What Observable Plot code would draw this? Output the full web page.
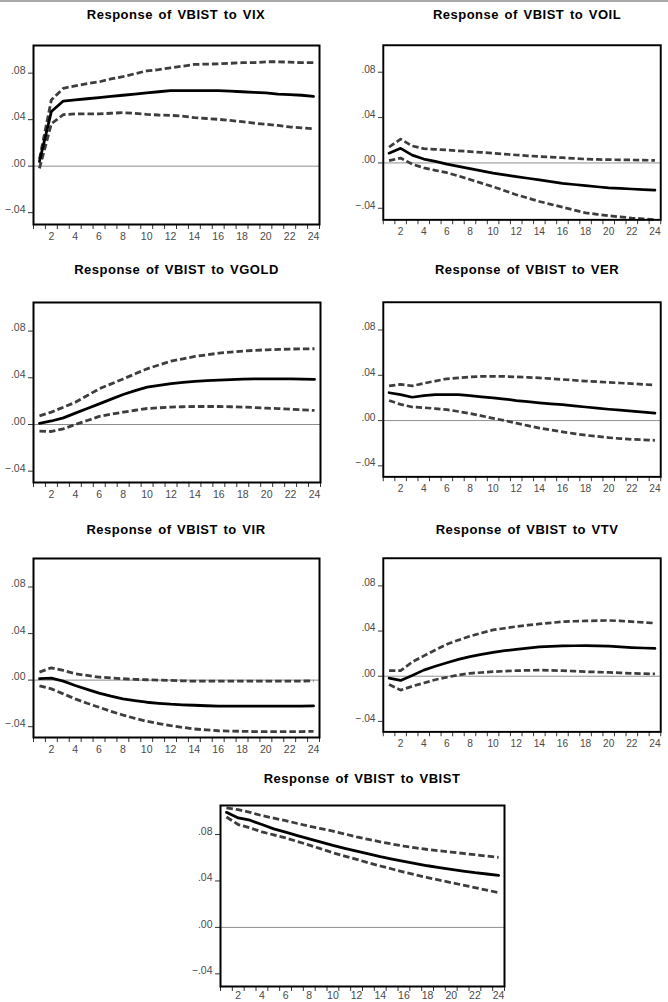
<!DOCTYPE html>
<html><head><meta charset="utf-8">
<script src="https://cdn.jsdelivr.net/npm/d3@7"></script>
<script src="https://cdn.jsdelivr.net/npm/@observablehq/plot@0.6"></script>
<style>
body{margin:0;background:#fff;width:668px;height:1002px;overflow:hidden;position:relative;font-family:"Liberation Sans",Arial,sans-serif}
.topbar{position:absolute;left:0;top:0;width:668px;height:2px;background:#a8a8a8}
.panel{position:absolute}
.title{position:absolute;text-align:center;font-weight:bold;font-size:13px;line-height:15px;letter-spacing:0.5px;word-spacing:1.5px;color:#000;white-space:nowrap}
</style></head><body>
<div class="topbar"></div>
<div id="root"></div>
<script>
const periods = [1,2,3,4,5,6,7,8,9,10,11,12,13,14,15,16,17,18,19,20,21,22,23,24];
const yTicks = [-0.04, 0, 0.04, 0.08];
const xLabelTicks = [2,4,6,8,10,12,14,16,18,20,22,24];
const xMinorTicks = [0.5,1.5,2.5,3.5,4.5,5.5,6.5,7.5,8.5,9.5,10.5,11.5,12.5,13.5,14.5,15.5,16.5,17.5,18.5,19.5,20.5,21.5,22.5,23.5,24.5];
const titles = ["Response of VBIST to VIX","Response of VBIST to VOIL","Response of VBIST to VGOLD","Response of VBIST to VER","Response of VBIST to VIR","Response of VBIST to VTV","Response of VBIST to VBIST"];

const vixResp = [0.004,0.047,0.056,0.057,0.058,0.059,0.060,0.061,0.062,0.063,0.064,0.065,0.065,0.065,0.065,0.065,0.0645,0.064,0.0635,0.063,0.062,0.0615,0.061,0.060];
const vixHi = [0.006,0.057,0.067,0.069,0.071,0.0725,0.075,0.077,0.0795,0.082,0.083,0.0846,0.086,0.0875,0.0878,0.088,0.0885,0.089,0.089,0.0898,0.0898,0.0895,0.089,0.089];
const vixLo = [-0.002,0.0365,0.0443,0.045,0.045,0.045,0.0455,0.046,0.0455,0.0446,0.044,0.0437,0.043,0.0417,0.041,0.0403,0.0393,0.0383,0.037,0.036,0.035,0.0337,0.033,0.0322];

const voilResp = [0.0086,0.0129,0.0069,0.0034,0.0014,-0.001,-0.003,-0.005,-0.007,-0.009,-0.0105,-0.012,-0.0135,-0.015,-0.0165,-0.018,-0.019,-0.020,-0.021,-0.022,-0.0225,-0.023,-0.0235,-0.024];
const voilHi = [0.014,0.021,0.015,0.0126,0.012,0.0114,0.0107,0.010,0.0093,0.0086,0.0078,0.007,0.0063,0.0057,0.0051,0.0046,0.004,0.0034,0.0031,0.0029,0.0027,0.0026,0.0024,0.0023];
const voilLo = [0.002,0.0043,-0.001,-0.0043,-0.0065,-0.0086,-0.0115,-0.0146,-0.0178,-0.021,-0.0245,-0.028,-0.031,-0.034,-0.0365,-0.039,-0.0415,-0.044,-0.0453,-0.0466,-0.0476,-0.0486,-0.0493,-0.050];

const vgoldResp = [0.001,0.003,0.0057,0.0097,0.0137,0.0177,0.0217,0.0257,0.029,0.032,0.0335,0.035,0.036,0.0369,0.0375,0.038,0.0385,0.0389,0.039,0.039,0.039,0.039,0.0388,0.0386];
const vgoldHi = [0.0074,0.0106,0.0148,0.019,0.0248,0.0306,0.0348,0.039,0.0434,0.0477,0.051,0.0543,0.0563,0.0583,0.0597,0.0611,0.062,0.0629,0.0635,0.064,0.0643,0.0646,0.0648,0.0649];
const vgoldLo = [-0.0057,-0.006,-0.0037,0.0,0.0034,0.0069,0.0088,0.0106,0.0122,0.0137,0.0143,0.0149,0.0152,0.0154,0.0154,0.0154,0.0152,0.0149,0.0145,0.014,0.0136,0.0131,0.0126,0.012];

const verResp = [0.0246,0.0229,0.0206,0.022,0.0229,0.0229,0.0229,0.022,0.021,0.020,0.019,0.0177,0.0167,0.0157,0.0148,0.014,0.013,0.012,0.011,0.010,0.0092,0.0083,0.0075,0.0066];
const verHi = [0.0306,0.032,0.0306,0.0329,0.0349,0.0369,0.0377,0.0386,0.039,0.0391,0.039,0.0386,0.0382,0.0377,0.037,0.0363,0.0356,0.0349,0.0343,0.0337,0.0332,0.0326,0.032,0.0314];
const verLo = [0.0177,0.0143,0.012,0.0114,0.0106,0.0097,0.008,0.0063,0.0042,0.002,0.0,-0.0023,-0.0045,-0.0066,-0.0083,-0.010,-0.0115,-0.0129,-0.014,-0.0151,-0.0159,-0.0166,-0.017,-0.0174];

const virResp = [0.0012,0.0017,-0.0009,-0.0046,-0.008,-0.0112,-0.0138,-0.0161,-0.0176,-0.019,-0.0199,-0.0207,-0.0212,-0.0216,-0.022,-0.0224,-0.0224,-0.0224,-0.0224,-0.0224,-0.0224,-0.0224,-0.0223,-0.0222];
const virHi = [0.0069,0.0106,0.0083,0.0055,0.004,0.0026,0.0019,0.0012,0.0007,0.0003,0.0,-0.0003,-0.0006,-0.0009,-0.0009,-0.0009,-0.0009,-0.0009,-0.0009,-0.0009,-0.0009,-0.0009,-0.0008,-0.0006];
const virLo = [-0.0049,-0.0075,-0.0118,-0.0161,-0.0199,-0.0233,-0.0268,-0.030,-0.0328,-0.0354,-0.0373,-0.0391,-0.0406,-0.042,-0.0428,-0.0435,-0.0438,-0.044,-0.0442,-0.0443,-0.0443,-0.0443,-0.0442,-0.044];

const vtvResp = [-0.0017,-0.0037,0.0006,0.0054,0.0089,0.012,0.0149,0.0174,0.0194,0.0211,0.0226,0.0237,0.0249,0.026,0.0265,0.0269,0.027,0.0271,0.0269,0.0266,0.026,0.0254,0.025,0.0246];
const vtvHi = [0.0049,0.0049,0.0126,0.018,0.0232,0.0283,0.032,0.0354,0.0383,0.041,0.0425,0.044,0.0452,0.0463,0.0473,0.0483,0.0487,0.049,0.0492,0.0494,0.049,0.0483,0.0477,0.047];
const vtvLo = [-0.0074,-0.0123,-0.0089,-0.006,-0.0031,-0.0009,0.0011,0.0026,0.0033,0.004,0.0045,0.0049,0.0052,0.0054,0.0052,0.0049,0.0045,0.004,0.0037,0.0034,0.003,0.0026,0.0023,0.002];

const vbistResp = [0.0991,0.0943,0.0923,0.0886,0.0849,0.082,0.0791,0.0763,0.0734,0.0706,0.0681,0.0657,0.0633,0.0609,0.0589,0.0569,0.055,0.0531,0.0515,0.050,0.0485,0.0471,0.046,0.0449];
const vbistHi = [0.1029,0.1014,0.0991,0.0963,0.0941,0.092,0.0895,0.0871,0.085,0.0829,0.0805,0.078,0.0758,0.0737,0.0718,0.070,0.0685,0.0671,0.066,0.0649,0.0637,0.0626,0.0614,0.0603];
const vbistLo = [0.0951,0.0886,0.0857,0.0823,0.0797,0.0771,0.074,0.0709,0.0676,0.0643,0.0614,0.0586,0.0557,0.0529,0.0503,0.0477,0.0453,0.0429,0.0407,0.0386,0.0364,0.0343,0.0321,0.030];

const series = [
  [vixResp, vixLo, vixHi],
  [voilResp, voilLo, voilHi],
  [vgoldResp, vgoldLo, vgoldHi],
  [verResp, verLo, verHi],
  [virResp, virLo, virHi],
  [vtvResp, vtvLo, vtvHi],
  [vbistResp, vbistLo, vbistHi]
];

// layout (box positions in page pixels)
const layout = [
  {left: 33, top: 45, w: 286, h: 179, capTop: 10, yd: [-0.0502, 0.1038], pad: 8},
  {left: 384, top: 45, w: 286, h: 180, capTop: 10, yd: [-0.0502, 0.1038], pad: 8},
  {left: 33, top: 302, w: 287, h: 180, capTop: 265, yd: [-0.0497, 0.1045], pad: 8},
  {left: 384, top: 302, w: 286, h: 180, capTop: 265, yd: [-0.0497, 0.1045], pad: 8},
  {left: 33, top: 558, w: 286, h: 179, capTop: 525, yd: [-0.0493, 0.1045], pad: 8},
  {left: 384, top: 558, w: 286, h: 179, capTop: 525, yd: [-0.0493, 0.1045], pad: 8},
  {left: 220, top: 805, w: 284, h: 181, capTop: 774, yd: [-0.0509, 0.105], pad: 5}
];

const fmt = d => { const s = d3.format(".2f")(d); return s.replace("0.", "."); };
const root = document.getElementById("root");
const ml = 40, mr = 8, mt = 8, mb = 30;
const dashColor = "#3d3d3d";
const dashStyle = {stroke: dashColor, strokeWidth: 2.8, strokeDasharray: "6.5,3", strokeLinecap: "butt"};

layout.forEach((L, i) => {
  const [resp, lo, hi] = series[i];
  const data = periods.map((p, j) => ({p, r: resp[j], lo: lo[j], hi: hi[j]}));
  const chart = Plot.plot({
    width: ml + L.w + mr,
    height: mt + L.h + mb,
    marginLeft: ml, marginRight: mr, marginTop: mt, marginBottom: mb,
    x: {domain: [0.5, 24.5]},
    y: {domain: L.yd},
    style: {fontFamily: '"Liberation Sans", Arial, sans-serif', fontSize: "10.5px", background: "transparent", overflow: "visible"},
    marks: [
      Plot.ruleY([0], {stroke: "#8c8c8c", strokeWidth: 1}),
      Plot.lineY(data, {x: "p", y: "hi", ...dashStyle}),
      Plot.lineY(data, {x: "p", y: "lo", ...dashStyle}),
      Plot.lineY(data, {x: "p", y: "r", stroke: "#000", strokeWidth: 2.8}),
      Plot.axisY({ticks: yTicks, tickFormat: () => "", tickSize: 5, stroke: "#333", label: null}),
      Plot.axisY({ticks: yTicks, tickFormat: fmt, tickSize: 0, tickPadding: 8, dy: -3, fill: "#4a4a4a", label: null}),
      Plot.axisX({ticks: xMinorTicks, tickFormat: () => "", tickSize: 5, stroke: "#333", label: null}),
      Plot.axisX({ticks: xLabelTicks, tickFormat: d => String(d), tickSize: 0, tickPadding: L.pad, fill: "#4a4a4a", label: null}),
      Plot.frame({stroke: "#000", strokeWidth: 2})
    ]
  });
  const wrap = document.createElement("div");
  wrap.className = "panel";
  wrap.style.left = (L.left - ml) + "px";
  wrap.style.top = (L.top - mt) + "px";
  wrap.appendChild(chart);
  root.appendChild(wrap);

  const t = document.createElement("div");
  t.className = "title";
  t.style.left = L.left + "px";
  t.style.width = L.w + "px";
  t.style.top = (L.capTop - 2.7) + "px";
  t.textContent = titles[i];
  root.appendChild(t);
});
</script>
</body></html>
